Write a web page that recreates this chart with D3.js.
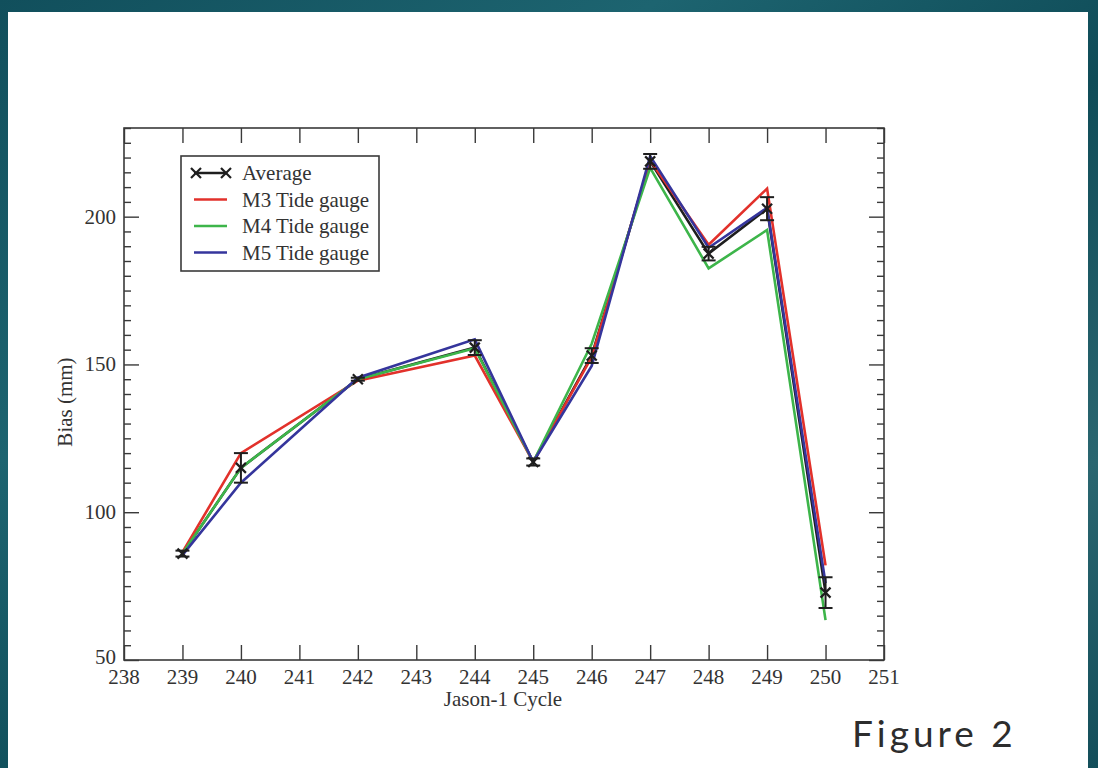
<!DOCTYPE html>
<html>
<head>
<meta charset="utf-8">
<script src="https://cdn.jsdelivr.net/npm/d3@7"></script>
<style>
  html, body { margin: 0; padding: 0; }
  body { width: 1098px; height: 768px; overflow: hidden; background: #165a66; }
  svg { display: block; }
</style>
</head>
<body>
<svg id="chart" width="1098" height="768"></svg>
<script>
// Jason-1 altimeter bias per cycle, from three tide gauges and their average
const cycles     = [239, 240, 242, 244, 245, 246, 247, 248, 249, 250];
const m3Bias     = [86.5, 120, 144.5, 153, 117, 152.5, 219, 190.5, 209.5, 82];
const m4Bias     = [86, 115, 145, 155.5, 117, 157, 216.5, 182.5, 195.5, 63.5];
const m5Bias     = [85.5, 110, 145.5, 158.5, 117, 149.5, 220.5, 189.5, 203, 76];
const avgBias    = [86, 115, 145, 155.7, 117, 153, 218.7, 187.5, 202.7, 72.8];
const avgError   = [1, 5, 0.5, 2.5, 1.2, 2.5, 2.5, 2.3, 3.9, 5.2];

const xTicks = [238, 239, 240, 241, 242, 243, 244, 245, 246, 247, 248, 249, 250, 251];
const yTicks = [50, 100, 150, 200];

const seriesNames  = ["Average", "M3 Tide gauge", "M4 Tide gauge", "M5 Tide gauge"];
const seriesColors = ["#1e1e1e", "#e2312b", "#3db54a", "#35359c"];

const svg = d3.select("#chart");

// textured teal backdrop
const defs = svg.append("defs");
const bg = defs.append("linearGradient").attr("id", "bg").attr("x1", 0).attr("y1", 0).attr("x2", 1).attr("y2", 1);
[["0%", "#114f5c"], ["30%", "#1d6470"], ["55%", "#0f4c58"], ["80%", "#2a6670"], ["100%", "#134e5a"]]
  .forEach(([o, c]) => bg.append("stop").attr("offset", o).attr("stop-color", c));
svg.append("rect").attr("width", 1098).attr("height", 768).attr("fill", "url(#bg)");

// white sheet
svg.append("rect").attr("x", 8).attr("y", 12).attr("width", 1080).attr("height", 770).attr("fill", "#ffffff");

const plot = { left: 124, right: 884, top: 128, bottom: 660 };
const x = d3.scaleLinear().domain([238, 251]).range([plot.left, plot.right]);
const y = d3.scaleLinear().domain([50, 230]).range([plot.bottom, plot.top]);

const axisColor = "#3a3a3a";
const serif = "'Liberation Serif', 'Times New Roman', serif";
const g = svg.append("g");

// inward-pointing ticks on all four sides
const yMinor = d3.range(50, 231, 5).filter(v => v % 50 !== 0);
function styleAxis(sel) {
  sel.select(".domain").remove();
  sel.selectAll("line").attr("stroke", axisColor).attr("stroke-width", 1.4);
}
g.append("g").attr("transform", `translate(0,${plot.bottom})`)
  .call(d3.axisBottom(x).tickValues(xTicks).tickSize(-15).tickFormat(""))
  .call(styleAxis);
g.append("g").attr("transform", `translate(0,${plot.top})`)
  .call(d3.axisTop(x).tickValues(xTicks).tickSize(-15).tickFormat(""))
  .call(styleAxis);
g.append("g").attr("transform", `translate(${plot.left},0)`)
  .call(d3.axisLeft(y).tickValues(yTicks).tickSize(-15).tickFormat(""))
  .call(styleAxis);
g.append("g").attr("transform", `translate(${plot.left},0)`)
  .call(d3.axisLeft(y).tickValues(yMinor).tickSize(-7).tickFormat(""))
  .call(styleAxis);
g.append("g").attr("transform", `translate(${plot.right},0)`)
  .call(d3.axisRight(y).tickValues(yTicks).tickSize(-15).tickFormat(""))
  .call(styleAxis);
g.append("g").attr("transform", `translate(${plot.right},0)`)
  .call(d3.axisRight(y).tickValues(yMinor).tickSize(-7).tickFormat(""))
  .call(styleAxis);

// frame
g.append("rect")
  .attr("x", plot.left).attr("y", plot.top)
  .attr("width", plot.right - plot.left).attr("height", plot.bottom - plot.top)
  .attr("fill", "none").attr("stroke", axisColor).attr("stroke-width", 1.6);

// tick labels
g.selectAll(".xl").data(xTicks).join("text")
  .attr("x", d => x(d)).attr("y", plot.bottom + 24)
  .attr("text-anchor", "middle")
  .attr("font-family", serif).attr("font-size", 21).attr("fill", "#333")
  .text(d => d);
g.selectAll(".yl").data(yTicks).join("text")
  .attr("x", plot.left - 8).attr("y", d => y(d) + (d === 50 ? 4 : 7))
  .attr("text-anchor", "end")
  .attr("font-family", serif).attr("font-size", 21).attr("fill", "#333")
  .text(d => d);

// axis titles
g.append("text")
  .attr("x", (plot.left + plot.right) / 2 - 1).attr("y", 706)
  .attr("text-anchor", "middle")
  .attr("font-family", serif).attr("font-size", 21).attr("fill", "#333")
  .text("Jason-1 Cycle");
g.append("text")
  .attr("transform", `translate(72,${(plot.top + plot.bottom) / 2 + 8}) rotate(-90)`)
  .attr("text-anchor", "middle")
  .attr("font-family", serif).attr("font-size", 21).attr("fill", "#333")
  .text("Bias (mm)");

// series lines
const line = d3.line().x(d => x(d[0])).y(d => y(d[1]));
const zipped = vals => cycles.map((c, i) => [c, vals[i]]);

const lineLayer = g.append("g").attr("fill", "none").attr("stroke-width", 2.6)
  .attr("stroke-linejoin", "miter");
lineLayer.append("path").datum(zipped(avgBias)).attr("d", line).attr("stroke", seriesColors[0]);
lineLayer.append("path").datum(zipped(m3Bias)).attr("d", line).attr("stroke", seriesColors[1]);
lineLayer.append("path").datum(zipped(m4Bias)).attr("d", line).attr("stroke", seriesColors[2]);
lineLayer.append("path").datum(zipped(m5Bias)).attr("d", line).attr("stroke", seriesColors[3]);

// error bars and cross markers on the average
const eb = g.append("g").attr("stroke", seriesColors[0]).attr("stroke-width", 2).attr("fill", "none");
cycles.forEach((c, i) => {
  const cx = x(c), lo = y(avgBias[i] - avgError[i]), hi = y(avgBias[i] + avgError[i]);
  eb.append("line").attr("x1", cx).attr("x2", cx).attr("y1", lo).attr("y2", hi);
  eb.append("line").attr("x1", cx - 7).attr("x2", cx + 7).attr("y1", lo).attr("y2", lo);
  eb.append("line").attr("x1", cx - 7).attr("x2", cx + 7).attr("y1", hi).attr("y2", hi);
});
const cross = (sel, cx, cy, r) => {
  sel.append("line").attr("x1", cx - r).attr("y1", cy - r).attr("x2", cx + r).attr("y2", cy + r);
  sel.append("line").attr("x1", cx - r).attr("y1", cy + r).attr("x2", cx + r).attr("y2", cy - r);
};
const mk = g.append("g").attr("stroke", seriesColors[0]).attr("stroke-width", 2.2);
cycles.forEach((c, i) => cross(mk, x(c), y(avgBias[i]), 5));

// legend
const lg = g.append("g");
lg.append("rect").attr("x", 181).attr("y", 156).attr("width", 198).attr("height", 115)
  .attr("fill", "#fff").attr("stroke", axisColor).attr("stroke-width", 1.6);
seriesNames.forEach((name, i) => {
  const ly = 173 + i * 26.5;
  lg.append("line").attr("x1", 194).attr("x2", 227).attr("y1", ly).attr("y2", ly)
    .attr("stroke", seriesColors[i]).attr("stroke-width", 2.4);
  if (i === 0) {
    const m = lg.append("g").attr("stroke", seriesColors[0]).attr("stroke-width", 2.2);
    cross(m, 196, ly, 5);
    cross(m, 226, ly, 5);
  }
  lg.append("text").attr("x", 242).attr("y", ly + 7)
    .attr("font-family", serif).attr("font-size", 21).attr("fill", "#333")
    .text(name);
});

// figure caption
svg.append("text")
  .attr("x", 852).attr("y", 747)
  .attr("font-family", "Lato, 'Open Sans', sans-serif").attr("font-size", 37)
  .attr("letter-spacing", 4).attr("fill", "#2d2d2d")
  .text("Figure 2");
</script>
</body>
</html>
